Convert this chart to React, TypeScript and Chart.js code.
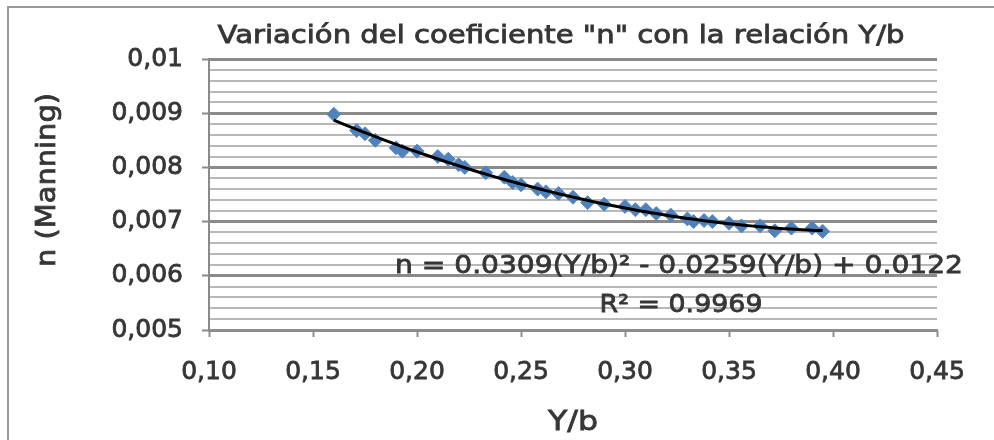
import React, { useEffect, useRef } from "react";
import { Chart, registerables } from "chart.js";

Chart.register(...registerables);

// ---- data ----
const yb = [
  0.160, 0.171, 0.175, 0.180, 0.190, 0.193, 0.200, 0.210, 0.215, 0.220,
  0.223, 0.233, 0.242, 0.246, 0.250, 0.258, 0.262, 0.268, 0.275, 0.282,
  0.290, 0.300, 0.305, 0.310, 0.315, 0.322, 0.330, 0.333, 0.338, 0.342,
  0.350, 0.356, 0.365, 0.372, 0.380, 0.390, 0.395,
];
const nManning = [
  0.00898, 0.00868, 0.00862, 0.00850, 0.00836, 0.00830, 0.00830, 0.00820, 0.00815, 0.00805,
  0.00800, 0.00790, 0.00782, 0.00772, 0.00768, 0.00760, 0.00755, 0.00752, 0.00745, 0.00735,
  0.00732, 0.00728, 0.00722, 0.00722, 0.00715, 0.00712, 0.00705, 0.00700, 0.00702, 0.00700,
  0.00697, 0.00692, 0.00692, 0.00683, 0.00688, 0.00688, 0.00682,
];

const xTickValues = [0.1, 0.15, 0.2, 0.25, 0.3, 0.35, 0.4, 0.45];
const yMajorTicks = [0.005, 0.006, 0.007, 0.008, 0.009, 0.01];

const titleText = 'Variación del coeficiente "n" con la relación Y/b';
const xTitle = "Y/b";
const yTitle = "n (Manning)";
const equationText = "n = 0.0309(Y/b)² - 0.0259(Y/b) + 0.0122";
const r2Text = "R² = 0.9969";

const FONT = "'DejaVu Sans', sans-serif";
const TEXT = "#363636";
const TEXT_STROKE = 0.8;

const isMajor = (v: number) => yMajorTicks.some((m) => Math.abs(m - v) < 1e-7);

const fmtY = (v: number) => {
  let s = v.toFixed(3);
  s = s.replace(/0+$/, "").replace(/\.$/, "");
  return s.replace(".", ",");
};

// least-squares quadratic fit of the data (the chart's polynomial trendline)
function quadFit(xs: number[], ys: number[]) {
  let s0 = 0, s1 = 0, s2 = 0, s3 = 0, s4 = 0, t0 = 0, t1 = 0, t2 = 0;
  xs.forEach((x, i) => {
    const y = ys[i];
    s0 += 1; s1 += x; s2 += x * x; s3 += x * x * x; s4 += x * x * x * x;
    t0 += y; t1 += x * y; t2 += x * x * y;
  });
  // solve [[s4,s3,s2],[s3,s2,s1],[s2,s1,s0]] * [a,b,c] = [t2,t1,t0]
  const M = [
    [s4, s3, s2, t2],
    [s3, s2, s1, t1],
    [s2, s1, s0, t0],
  ];
  for (let i = 0; i < 3; i++) {
    for (let k = i + 1; k < 3; k++) {
      const f = M[k][i] / M[i][i];
      for (let j = i; j < 4; j++) M[k][j] -= f * M[i][j];
    }
  }
  const r = [0, 0, 0];
  for (let i = 2; i >= 0; i--) {
    let s = M[i][3];
    for (let j = i + 1; j < 3; j++) s -= M[i][j] * r[j];
    r[i] = s / M[i][i];
  }
  return r;
}

function drawStretched(
  ctx: CanvasRenderingContext2D,
  text: string,
  cx: number,
  baseY: number,
  size: number,
  targetWidth: number,
  rotate = 0
) {
  ctx.save();
  ctx.font = `${size}px ${FONT}`;
  ctx.fillStyle = TEXT;
  ctx.strokeStyle = TEXT;
  ctx.lineWidth = TEXT_STROKE;
  ctx.textAlign = "center";
  ctx.textBaseline = "alphabetic";
  const w = ctx.measureText(text).width;
  ctx.translate(cx, baseY);
  if (rotate) ctx.rotate(rotate);
  ctx.scale(targetWidth / w, 1);
  ctx.fillText(text, 0, 0);
  ctx.strokeText(text, 0, 0);
  ctx.restore();
}

export default function App() {
  const ref = useRef<HTMLCanvasElement | null>(null);

  useEffect(() => {
    if (!ref.current) return;
    const [a, b, c] = quadFit(yb, nManning);
    const trend = yb.map((x) => ({ x, y: a * x * x + b * x + c }));
    const points = yb.map((x, i) => ({ x, y: nManning[i] }));

    const decor = {
      id: "decor",
      beforeDraw(chart: any) {
        const ctx = chart.ctx;
        ctx.save();
        ctx.fillStyle = "#ffffff";
        ctx.fillRect(0, 0, chart.width, chart.height);
        ctx.strokeStyle = "#9a9a9a";
        ctx.lineWidth = 2;
        ctx.strokeRect(8, 7, chart.width + 20, chart.height + 20);
        ctx.restore();
      },
      afterDraw(chart: any) {
        const ctx = chart.ctx;
        drawStretched(ctx, titleText, 561, 43, 24, 687);
        drawStretched(ctx, equationText, 679, 273, 25, 568);
        drawStretched(ctx, r2Text, 681, 312, 25, 163);
        drawStretched(ctx, xTitle, 573, 430, 27, 50);
        drawStretched(ctx, yTitle, 55, 180, 27, 174, -Math.PI / 2);
      },
    };

    const chart = new Chart(ref.current, {
      type: "scatter",
      data: {
        datasets: [
          {
            type: "line",
            label: "Polinómica",
            data: trend,
            borderColor: "#000000",
            borderWidth: 3,
            pointRadius: 0,
            tension: 0.4,
            fill: false,
          } as any,
          {
            label: "n",
            data: points,
            pointStyle: "rectRot",
            pointRadius: 7,
            backgroundColor: "#4f81bd",
            borderColor: "#5a89c2",
            borderWidth: 1,
          },
        ],
      },
      options: {
        animation: false,
        responsive: false,
        events: [],
        layout: { padding: { top: 59, right: 57, left: 0, bottom: 0 } },
        plugins: { legend: { display: false }, tooltip: { enabled: false }, title: { display: false } },
        scales: {
          x: {
            type: "linear",
            min: 0.1,
            max: 0.45,
            afterFit: (s: any) => {
              s.height = 110;
            },
            afterBuildTicks: (s: any) => {
              s.ticks = xTickValues.map((v) => ({ value: v }));
            },
            ticks: {
              callback: (v: any) => Number(v).toFixed(2).replace(".", ","),
              color: TEXT,
              textStrokeColor: TEXT,
              textStrokeWidth: TEXT_STROKE,
              font: { family: FONT, size: 25 },
              padding: 20,
              maxRotation: 0,
            },
            grid: { drawOnChartArea: false, drawTicks: true, tickLength: 7, tickColor: "#8e8e8e", tickWidth: 2 },
            border: { color: "#8e8e8e", width: 2 },
          },
          y: {
            type: "linear",
            min: 0.005,
            max: 0.01,
            afterFit: (s: any) => {
              s.width = 209;
            },
            afterBuildTicks: (s: any) => {
              const t: any[] = [];
              for (let i = 0; i <= 25; i++) t.push({ value: 0.005 + i * 0.0002 });
              s.ticks = t;
            },
            ticks: {
              callback: (v: any) => (isMajor(Number(v)) ? fmtY(Number(v)) : ""),
              color: TEXT,
              textStrokeColor: TEXT,
              textStrokeWidth: TEXT_STROKE,
              font: { family: FONT, size: 25 },
              padding: 19,
              autoSkip: false,
            },
            grid: {
              color: (ctx: any) => (isMajor(ctx.tick.value) ? "#8a8a8a" : "#b8b8b8"),
              lineWidth: (ctx: any) => (isMajor(ctx.tick.value) ? 3 : 2),
              tickLength: 7,
              tickColor: (ctx: any) => (isMajor(ctx.tick.value) ? "#8a8a8a" : "rgba(0,0,0,0)"),
              tickWidth: 2,
            },
            border: { color: "#8a8a8a", width: 2 },
          },
        },
      },
      plugins: [decor],
    } as any);

    return () => chart.destroy();
  }, []);

  return (
    <div style={{ position: "fixed", left: 0, top: 0, width: 994, height: 440 }}>
      <canvas ref={ref} width={994} height={440} style={{ display: "block", width: 994, height: 440 }} />
    </div>
  );
}
